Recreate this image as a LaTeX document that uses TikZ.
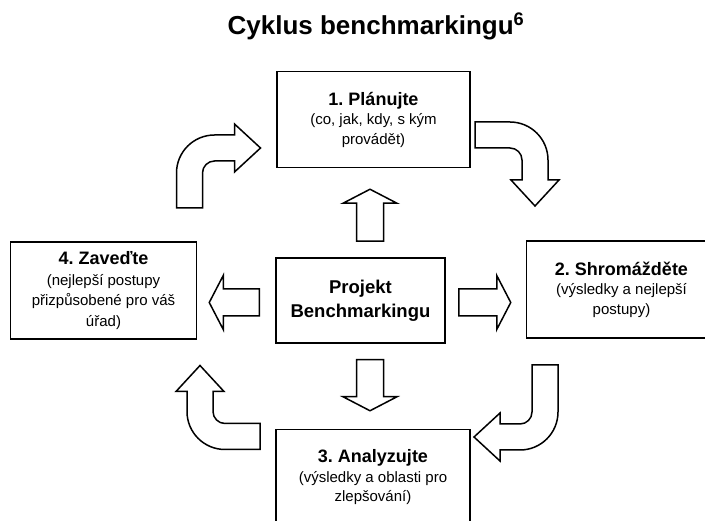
\documentclass[tikz,border=0pt]{standalone}
\usepackage{fontspec}
\setmainfont{Liberation Sans}
\usetikzlibrary{positioning}
\frenchspacing

\newcommand{\phasetitle}[1]{{\bfseries\fontsize{18}{22}\selectfont #1}}

\tikzset{
  phase/.style={draw, line width=1.5pt, inner sep=0pt, align=center,
    minimum height=96pt, font=\fontsize{15}{19.5}\selectfont},
  hollow/.style={draw, line width=1.5pt, fill=white, line join=miter},
  pics/bend/.style={code={
    \draw[hollow] (-13,0) -- (-13,-#1+25) arc[start angle=180, end angle=90, radius=38pt]
      -- (45,-#1-13) -- (45,-#1-24) -- (71,-#1) -- (45,-#1+24) -- (45,-#1+13)
      -- (25,-#1+13) arc[start angle=90, end angle=180, radius=12pt] -- (13,0) -- cycle;
  }},
  pics/push/.style={code={
    \draw[hollow] (-13.5,0) -- (-13.5,-#1+14) -- (-27,-#1+14) -- (0,-#1)
      -- (27,-#1+14) -- (13.5,-#1+14) -- (13.5,0) -- cycle;
  }},
}

\begin{document}
\begin{tikzpicture}[x=1pt, y=-1pt]

  \useasboundingbox (0,0) rectangle (705,521);

  \node (title) at (376,35) [anchor=base, font=\bfseries\fontsize{26}{30}\selectfont]
    {Cyklus benchmarkingu\textsuperscript{6}};

  \node (project) at (360.5,300.5) [draw, line width=1.5pt, inner sep=0pt,
    minimum width=169pt, minimum height=85pt, align=center,
    font=\bfseries\fontsize{18.5}{24}\selectfont] {Projekt\\Benchmarkingu};

  \node (plan) [phase, minimum width=193pt, above=89pt of project, xshift=13pt]
    {\phasetitle{1. Plánujte}\\(co, jak, kdy, s kým\\provádět)};
  \node (gather) [phase, minimum width=190pt, minimum height=97pt, right=80pt of project, yshift=11pt]
    {\phasetitle{2. Shromážděte}\\(výsledky a nejlepší\\postupy)};
  \node (analyze) [phase, minimum width=194pt, below=85pt of project, xshift=12.5pt]
    {\phasetitle{3. Analyzujte}\\(výsledky a oblasti pro\\zlepšování)};
  \node (adopt) [phase, minimum width=186pt, minimum height=97pt, left=78pt of project, yshift=10pt,
    font=\fontsize{15}{20.5}\selectfont]
    {\phasetitle{4. Zaveďte}\\(nejlepší postupy\\přizpůsobené pro váš\\úřad)};

  % arrows out of the project box
  \pic at ([xshift=9.5pt, yshift=16pt]project.north) {push=52};
  \pic[rotate=180] at ([xshift=9.5pt, yshift=-16pt]project.south) {push=51};
  \pic[rotate=90] at ([xshift=-16pt, yshift=-2pt]project.west) {push=50};
  \pic[rotate=-90] at ([xshift=13pt, yshift=-2pt]project.east) {push=52};

  % the cycle
  \pic at (189.5,208) {bend=60};
  \pic[rotate=-90] at (475,135) {bend=60};
  \pic[rotate=180] at (545,365) {bend=72};
  \pic[rotate=90] at (260,436.5) {bend=60};

\end{tikzpicture}
\end{document}
